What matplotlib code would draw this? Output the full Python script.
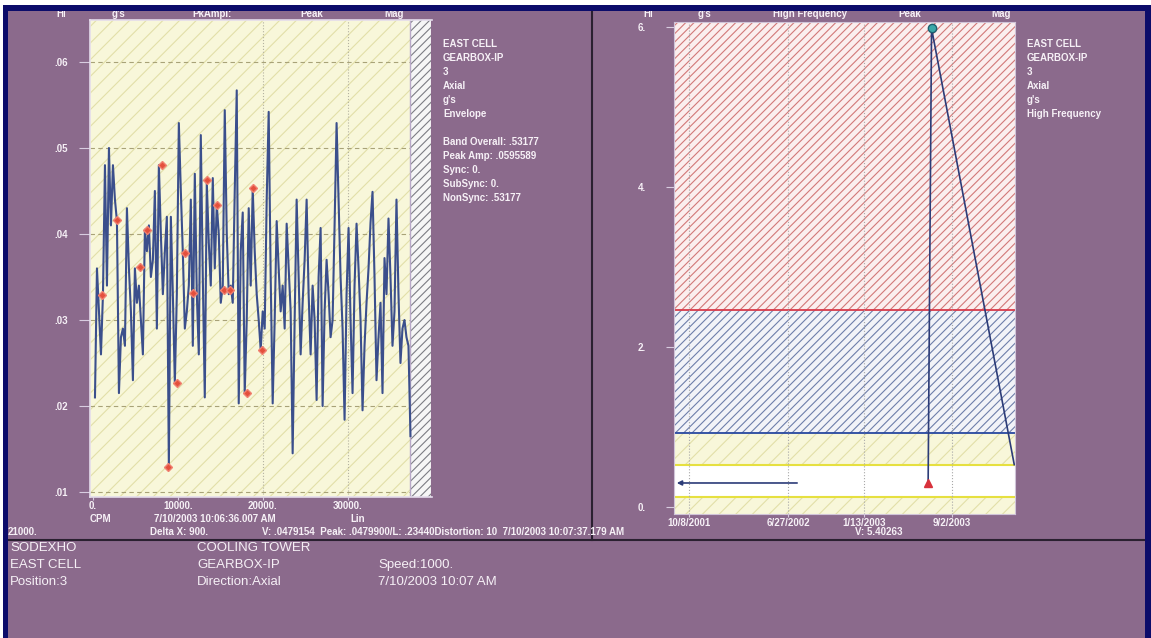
import numpy as np
import pandas as pd
import matplotlib
matplotlib.use('Agg')
from matplotlib import pyplot as plt
import matplotlib.dates as md
from matplotlib.patches import Rectangle
from matplotlib.lines import Line2D

W, H = 1151, 638

# ---- left panel: envelope spectrum (g's vs CPM) ----
spec_start = 235
spec_step = 235
spec_vals = [
    .021, .036, .031, .026, .033, .048, .034, .050, .041, .048,
    .044, .0415, .0215, .028, .029, .027, .043, .036, .031, .023,
    .036, .032, .034, .030, .026, .0405, .038, .041, .035, .037,
    .045, .029, .048, .040, .033, .038, .042, .0129, .042, .033,
    .0227, .033, .0529, .045, .0378, .029, .031, .034, .044, .027,
    .047, .033, .026, .0515, .035, .021, .046, .039, .034, .0465,
    .036, .0434, .040, .032, .034, .0544, .040, .033, .034, .032,
    .045, .0567, .0203, .038, .0425, .0215, .030, .043, .034, .0453,
    .038, .033, .030, .0265, .031, .029, .044, .0542, .035, .0203,
    .030, .0415, .036, .031, .034, .029, .0412, .036, .031, .0145,
    .030, .044, .035, .026, .032, .037, .044, .033, .026, .034,
    .030, .0207, .035, .0407, .020, .031, .037, .033, .028, .030,
    .041, .0529, .044, .035, .029, .0184, .033, .0407, .030, .0215,
    .034, .0412, .036, .030, .0195, .027, .032, .036, .0413, .0449,
    .035, .023, .028, .032, .0215, .0372, .033, .0418, .035, .027,
    .031, .044, .033, .025, .029, .030, .028, .027, .0165,
]
peak_cpm = [1060, 2820, 5530, 6350, 8120, 8820, 9880, 10820, 11760,
            13410, 14590, 15410, 16120, 18120, 18820, 19880]
peak_vals = [.0329, .0416, .0362, .0405, .048, .0129, .0227, .0378, .0331,
             .0463, .0434, .0335, .0335, .0215, .0453, .0265]
fmax_cpm = 37300

left_xticks = [0, 10000, 20000, 30000]
left_xlabels = ['0.', '10000.', '20000.', '30000.']
left_yticks = [.01, .02, .03, .04, .05, .06]
left_ylabels = ['.01', '.02', '.03', '.04', '.05', '.06']

# ---- right panel: high frequency trend ----
trend_dates = pd.to_datetime(['2003-07-01', '2003-07-10', '2004-02-13'])
trend_vals = [0.30, 5.98, 0.53]
base_dates = pd.to_datetime(['2001-08-30', '2002-07-28'])
base_vals = [0.30, 0.30]
alarm_levels = [2.46, 0.93, 0.525, 0.125]
right_xticks = pd.to_datetime(['2001-10-08', '2002-06-27', '2003-01-13', '2003-09-02'])
right_xlabels = ['10/8/2001', '6/27/2002', '1/13/2003', '9/2/2003']
right_yticks = [0, 2, 4, 6]
right_ylabels = ['0.', '2.', '4.', '6.']

purple = '#8b6a8c'
white = '#f6f0f6'
line_blue = '#3b4f8c'

plt.rcParams['font.family'] = ['Liberation Sans', 'DejaVu Sans']
plt.rcParams['hatch.linewidth'] = 0.8

fig = plt.figure(figsize=(W / 100, H / 100), dpi=100, facecolor=purple)


def box(x0, y0, x1, y1):
    return [x0 / W, 1 - y1 / H, (x1 - x0) / W, (y1 - y0) / H]


def txt(x, y, s, size=7, weight='bold', ha='left', **kw):
    fig.text(x / W, 1 - y / H, s, fontsize=size, fontweight=weight, color=white,
             ha=ha, va='center', zorder=3, **kw)


# ---------------- left spectrum ----------------
ax1 = fig.add_axes(box(90, 20, 432, 497))
ax1.set_facecolor('#f8f7da')
ax1.add_patch(Rectangle((0, 0), 1, 1, transform=ax1.transAxes, facecolor='#f8f7da',
                        edgecolor='#e2dfa8', hatch='//', linewidth=0, zorder=0))
freqs = spec_start + spec_step * np.arange(len(spec_vals))
ax1.plot(freqs, spec_vals, color=line_blue, lw=1.5, zorder=3)
ax1.plot(peak_cpm, peak_vals, linestyle='none', marker='D', ms=4.5,
         color='#e4503c', markeredgecolor='#f08070', zorder=4)
ax1.axvspan(fmax_cpm, 39900, facecolor='#f6f6f6', edgecolor='#7c7c84',
            hatch='////', linewidth=0, zorder=2)
ax1.axvline(fmax_cpm, color='#b8a8c8', lw=1, zorder=2)
ax1.set_xlim(-350, 39900)
ax1.set_ylim(.00942, .06488)
for v in left_yticks:
    ax1.axhline(v, color='#a8a278', lw=0.8, ls=(0, (4, 3)), zorder=1)
for v in left_xticks[2:]:
    ax1.axvline(v, color='#b4b2a0', lw=0.8, ls=':', zorder=1)
ax1.set_xticks(left_xticks, left_xlabels)
ax1.set_yticks(left_yticks, left_ylabels)
ax1.tick_params(axis='y', length=8, color='#d8cce0', pad=8, labelsize=7, labelcolor=white)
ax1.tick_params(axis='x', length=2, color='#d8cce0', pad=1, labelsize=7, labelcolor=white)
for lab in ax1.get_xticklabels() + ax1.get_yticklabels():
    lab.set_fontweight('bold')
for side in ['left', 'top', 'bottom']:
    ax1.spines[side].set_color('#e4dcec')
    ax1.spines[side].set_linewidth(1.2)
ax1.spines['right'].set_color(purple)
ax1.spines['right'].set_linewidth(1.5)

# ---------------- right trend ----------------
ax2 = fig.add_axes(box(674, 22, 1015, 514))
ax2.set_facecolor('white')
x0 = md.date2num(pd.Timestamp('2001-08-30'))
x1 = md.date2num(pd.Timestamp('2004-02-15'))
ax2.set_xlim(x0, x1)
ax2.set_ylim(-0.0875, 6.06)
ax2.axhspan(alarm_levels[0], 6.06, facecolor='#fbeeee', edgecolor='#d27878',
            hatch='////', linewidth=0, zorder=0)
ax2.axhspan(alarm_levels[1], alarm_levels[0], facecolor='#f2f3f8', edgecolor='#6e7eaa',
            hatch='////', linewidth=0, zorder=0)
ax2.axhspan(alarm_levels[2], alarm_levels[1], facecolor='#f8f7da', edgecolor='#e2dfa8',
            hatch='//', linewidth=0, zorder=0)
ax2.axhspan(-0.0875, alarm_levels[3], facecolor='#f8f7da', edgecolor='#e2dfa8',
            hatch='//', linewidth=0, zorder=0)
ax2.axhline(alarm_levels[0], color='#d83a4a', lw=1.3, zorder=1)
ax2.axhline(alarm_levels[1], color='#2848a0', lw=1.3, zorder=1)
ax2.axhline(alarm_levels[2], color='#e6e040', lw=1.5, zorder=1)
ax2.axhline(alarm_levels[3], color='#e6e040', lw=1.5, zorder=1)
for d in right_xticks:
    ax2.axvline(d, color='#a8a8a8', lw=0.8, ls=':', zorder=1)
ax2.plot(trend_dates, trend_vals, color='#2c3c78', lw=1.2, zorder=3)
ax2.plot(trend_dates[:1], trend_vals[:1], linestyle='none', marker='^', ms=6,
         color='#d8323c', zorder=4)
ax2.plot(trend_dates[1:2], trend_vals[1:2], linestyle='none', marker='o', ms=6,
         color='#3aa8a8', markeredgecolor='#1c6070', zorder=4)
ax2.annotate('', xy=(x0, base_vals[0]), xytext=(md.date2num(base_dates[1]), base_vals[1]),
             arrowprops=dict(arrowstyle='-|>', color='#2c3c78', lw=1.2, mutation_scale=7),
             zorder=3)
ax2.set_xticks(right_xticks, right_xlabels)
ax2.set_yticks(right_yticks, right_ylabels)
ax2.tick_params(axis='y', length=6, color='#d8cce0', pad=14, labelsize=7, labelcolor=white)
ax2.tick_params(axis='x', length=2, color='#d8cce0', pad=1, labelsize=7, labelcolor=white)
for lab in ax2.get_xticklabels() + ax2.get_yticklabels():
    lab.set_fontweight('bold')
for sp in ax2.spines.values():
    sp.set_color('#d0c4d8')
    sp.set_linewidth(0.8)

# ---------------- header rows ----------------
for x, s in [(61, 'Hi'), (118, "g's"), (212, 'PkAmpl:'), (312, 'Peak'), (394, 'Mag')]:
    txt(x, 14, s, ha='center')
for x, s in [(648, 'Hi'), (705, "g's"), (810, 'High Frequency'), (910, 'Peak'), (1001, 'Mag')]:
    txt(x, 14, s, ha='center')

# side info
left_info = ['EAST CELL', 'GEARBOX-IP', '3', 'Axial', "g's", 'Envelope', '',
             'Band Overall: .53177', 'Peak Amp: .0595589', 'Sync: 0.', 'SubSync: 0.',
             'NonSync: .53177']
for i, s in enumerate(left_info):
    txt(443, 44 + 14 * i, s)
right_info = ['EAST CELL', 'GEARBOX-IP', '3', 'Axial', "g's", 'High Frequency']
for i, s in enumerate(right_info):
    txt(1027, 44 + 14 * i, s)

# rows under the plots
txt(90, 519, 'CPM')
txt(215, 519, '7/10/2003 10:06:36.007 AM', ha='center')
txt(350, 519, 'Lin')
txt(8, 532, '21000.')
txt(150, 532, 'Delta X: 900.')
txt(262, 532, 'V: .0479154  Peak: .0479900/L: .23440Distortion: 10  7/10/2003 10:07:37.179 AM')
txt(855, 532, 'V: 5.40263')

# footer
for x, y, s in [(10, 548, 'SODEXHO'), (10, 565, 'EAST CELL'), (10, 582, 'Position:3'),
                (197, 548, 'COOLING TOWER'), (197, 565, 'GEARBOX-IP'),
                (197, 582, 'Direction:Axial'), (378, 565, 'Speed:1000.'),
                (378, 582, '7/10/2003 10:07 AM')]:
    txt(x, y, s, size=9.5, weight='normal')

# dividers and frame
fig.add_artist(Line2D([592 / W, 592 / W], [1 - 11 / H, 1 - 540 / H], color='#2a2030', lw=1.5))
fig.add_artist(Line2D([8 / W, 1145 / W], [1 - 540 / H, 1 - 540 / H], color='#2a2030', lw=1.5))
fig.patches.append(Rectangle((0, 1 - 5 / H), 1, 5 / H, transform=fig.transFigure,
                             facecolor='white', edgecolor='none', zorder=10))
fig.patches.append(Rectangle((0, 1 - 11 / H), 1, 6 / H, transform=fig.transFigure,
                             facecolor='#0c0c6a', edgecolor='none', zorder=10))
fig.patches.append(Rectangle((0, 0), 3 / W, 1, transform=fig.transFigure,
                             facecolor='white', edgecolor='none', zorder=10))
fig.patches.append(Rectangle((3 / W, 0), 5 / W, 1 - 5 / H, transform=fig.transFigure,
                             facecolor='#0c0c6a', edgecolor='none', zorder=10))
fig.patches.append(Rectangle((1145 / W, 0), 6 / W, 1 - 5 / H, transform=fig.transFigure,
                             facecolor='#0c0c6a', edgecolor='none', zorder=10))

fig.savefig('out.png', dpi=100, facecolor=purple)
